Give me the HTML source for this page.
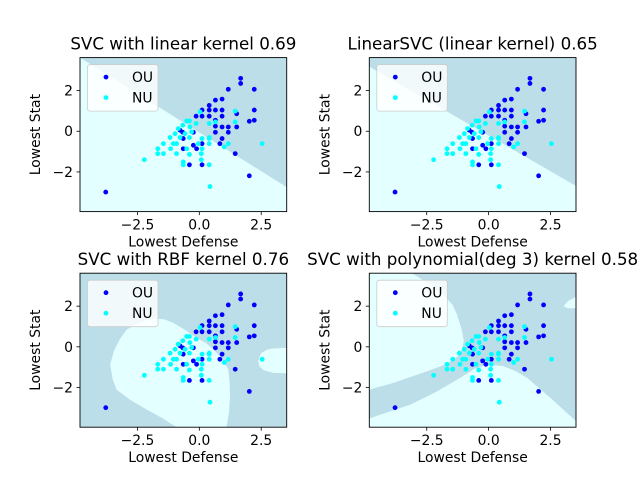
<!DOCTYPE html>
<html><head><meta charset="utf-8"><style>
body{margin:0;background:#fff}
svg{display:block;font-family:"DejaVu Sans","Liberation Sans",sans-serif}
</style></head><body>
<svg id="fig" width="640" height="480" viewBox="0 0 640 480"></svg>
<script>
const ouX=[-3.78,1.67,1.67,1.17,2.22,0.92,0.65,0.4,0.11,0.4,0.65,0.92,2.22,-0.13,0.11,0.4,0.65,0.92,1.51,2.02,2.22,0.65,0.92,1.17,1.51,1.17,0.65,0.92,0.83,1.45,2.02,-0.67,-0.65,-0.65,-0.24,-0.11,-0.4,0.11,0.11,-0.78,-0.24];
const ouY=[-2.99,2.6,2.35,2.06,2.06,1.58,1.53,1.27,1.04,1.04,1.04,1.04,1.04,0.74,0.74,0.74,0.54,0.74,0.86,0.49,0.54,0.25,0.21,0.21,0.21,-0.05,-0.05,-0.36,-0.61,-1.1,-2.19,-0.05,-0.36,-0.86,-0.69,-0.86,-1.65,-1.65,-0.61,0.05,-0.05];
const nuX=[-2.22,-1.68,-1.68,-1.45,-1.45,-1.18,-1.16,-0.98,-0.92,-0.92,-0.78,-0.85,-0.67,-0.51,-0.4,-0.65,-0.65,-0.4,-0.51,-0.4,-0.38,-0.31,-0.13,-0.04,0.03,0.11,0.11,0.08,0.08,0.4,0.4,0.4,0.4,0.4,0.43,0.65,1.01,1.17,1.45,1.45,2.54,-0.58,-1.05];
const nuY=[-1.4,-0.86,-1.1,-0.61,-1.1,-0.31,-0.86,-0.12,-0.61,-1.1,-0.31,0.13,0.3,0.51,0.51,-1.51,-1.65,-1.14,-0.86,-0.31,0.21,-0.03,0.38,-0.61,0.95,-0.36,-0.86,-1.1,-1.4,0.38,-0.31,-0.36,-0.61,-1.65,-2.72,0.46,-0.77,-0.61,0.99,0.46,-0.61,-0.12,-0.61];
const xTicks=[-2.5,0,2.5];
const yTicks=[2,0,-2];
const xTickLabels=["−2.5","0.0","2.5"];
const yTickLabels=["2","0","−2"];
const titles=["SVC with linear kernel 0.69","LinearSVC (linear kernel) 0.65","SVC with RBF kernel 0.76","SVC with polynomial(deg 3) kernel 0.58"];
const regions=[
 [[[-4.82,3.62],[3.53,-2.75],[3.53,-3.95],[-4.82,-3.95]]],
 [[[-4.82,3.17],[3.53,-2.69],[3.53,-3.95],[-4.82,-3.95]]],
 [[[-1.72,1.38],[-2.1,1.33],[-2.5,1.15],[-2.93,0.85],[-3.2,0.4],[-3.45,-0.2],[-3.6,-0.87],[-3.5,-1.6],[-3.34,-2.1],[-2.8,-2.6],[-2.13,-3.08],[-1.5,-3.5],[-0.92,-3.95],[1.1,-3.95],[1.2,-3.2],[1.24,-2.43],[1.22,-1.7],[1.17,-1.11],[0.9,-0.55],[0.57,-0.13],[0.25,0.2],[-0.11,0.44],[-0.6,0.85],[-1.05,1.18],[-1.4,1.35]],
  [[2.38,-0.67],[2.5,-0.3],[2.75,-0.13],[2.99,-0.08],[3.53,-0.05],[3.53,-1.3],[2.99,-1.28],[2.6,-1.15],[2.42,-0.95]]],
 [[[-4.82,3.62],[-3.1,3.62],[-2.4,3.1],[-1.82,2.57],[-1.45,2.05],[-1.28,1.59],[-1.1,0.9],[-1.0,0.28],[-1.14,-0.38],[-1.7,-0.85],[-2.49,-1.2],[-3.84,-1.77],[-4.82,-2.1]],
  [[-4.82,-3.52],[-3.16,-2.84],[-2.1,-2.2],[-1.14,-1.52],[-0.6,-1.1],[-0.07,-0.87],[0.6,-0.95],[1.1,-1.2],[1.55,-1.52],[2.49,-2.5],[3.53,-3.65],[3.53,-3.95],[-4.82,-3.95]],
  [[3.03,2.0],[3.2,2.25],[3.53,2.45],[3.53,1.9],[3.2,1.9]]]
];
const axesPos=[[80,57.6],[369.3,57.6],[80,273.2],[369.3,273.2]];
const W=206.7,H=154,xmin=-4.82,xmax=3.53,ymin=-3.95,ymax=3.62;
const NS="http://www.w3.org/2000/svg";
const fig=document.getElementById('fig');
function mk(tag,attrs,parent){const e=document.createElementNS(NS,tag);for(const k in attrs)e.setAttribute(k,attrs[k]);(parent||fig).appendChild(e);return e;}
axesPos.forEach((p,i)=>{
 const L=p[0],T=p[1];
 const sx=x=>L+(x-xmin)/(xmax-xmin)*W;
 const sy=y=>T+(ymax-y)/(ymax-ymin)*H;
 const g=mk('g',{});
 
 
 const cp=mk('clipPath',{id:'clip'+i},g);mk('rect',{x:L,y:T,width:W,height:H},cp);
 const bg=mk('rect',{x:L,y:T,width:W,height:H,fill:'#bcdee9'},g);
 
 
 regions[i].forEach(poly=>{
  const pg=mk('polygon',{points:poly.map(q=>sx(q[0])+','+sy(q[1])).join(' '),fill:'#e4ffff','clip-path':'url(#clip'+i+')'},g);
  
  
 });
 ouX.forEach((x,j)=>{const c=mk('circle',{cx:sx(x),cy:sy(ouY[j]),r:2.4,fill:'#0000ff'},g);
  
  });
 nuX.forEach((x,j)=>{const c=mk('circle',{cx:sx(x),cy:sy(nuY[j]),r:2.4,fill:'#00ffff'},g);
  
  });
 mk('rect',{x:L,y:T,width:W,height:H,fill:'none',stroke:'#000','stroke-width':0.9},g);
 xTicks.forEach((t,j)=>{const x=sx(t);mk('line',{x1:x,x2:x,y1:T+H,y2:T+H+3.5,stroke:'#000','stroke-width':0.8},g);
  const tx=mk('text',{x:x,y:T+H+18,'font-size':'13.9px','text-anchor':'middle'},g);tx.textContent=xTickLabels[j];
  
  });
 yTicks.forEach((t,j)=>{const y=sy(t);mk('line',{x1:L,x2:L-3.5,y1:y,y2:y,stroke:'#000','stroke-width':0.8},g);
  const tx=mk('text',{x:L-7,y:y+5,'font-size':'13.9px','text-anchor':'end'},g);tx.textContent=yTickLabels[j];
  
  });
 const xl=mk('text',{x:L+W/2,y:T+H+35,'font-size':'13.9px','text-anchor':'middle'},g);xl.textContent='Lowest Defense';
 
 
 const yl=mk('text',{x:0,y:0,'font-size':'13.9px','text-anchor':'middle',transform:'translate('+(L-40)+','+(T+H/2)+') rotate(-90)'},g);yl.textContent='Lowest Stat';
 
 
 const tt=mk('text',{x:L+W/2,y:T-8,'font-size':'16.7px','text-anchor':'middle'},g);tt.textContent=titles[i];
 
 
 const lg=mk('g',{},g);
 
 
 mk('rect',{x:L+7.5,y:T+7,width:70.5,height:46.5,rx:2.5,fill:'#fff','fill-opacity':0.8,stroke:'#cccccc','stroke-width':0.8},lg);
 mk('circle',{cx:L+26,cy:T+19.5,r:2.4,fill:'#0000ff'},lg);
 mk('circle',{cx:L+26,cy:T+40,r:2.4,fill:'#00ffff'},lg);
 const t1=mk('text',{x:L+52,y:T+24.5,'font-size':'13.9px'},lg);t1.textContent='OU';
 
 
 const t2=mk('text',{x:L+52,y:T+45,'font-size':'13.9px'},lg);t2.textContent='NU';
 
 
});
</script>
</body></html>
